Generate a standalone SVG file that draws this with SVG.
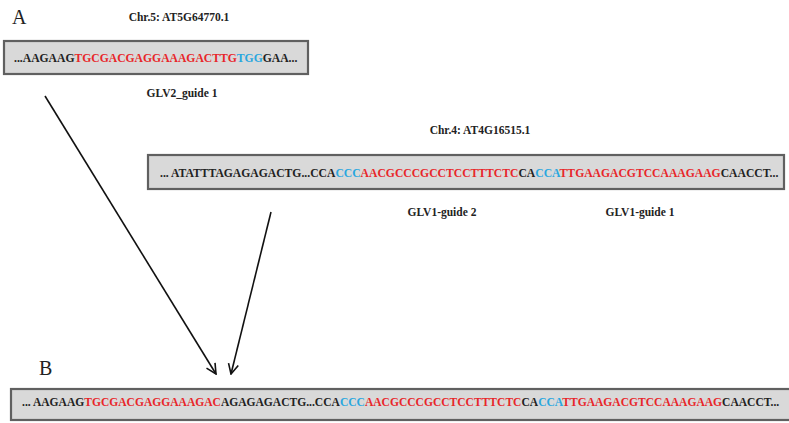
<svg xmlns="http://www.w3.org/2000/svg" width="789" height="423" viewBox="0 0 789 423">
<defs>
<style>
.lbl{font-family:"Liberation Serif","Times New Roman",serif;font-weight:bold;font-size:11.5px;fill:#222;text-anchor:middle}
.seq{font-family:"Liberation Serif","Times New Roman",serif;font-weight:bold;font-size:11.55px;fill:#222}
.s1{font-size:11.65px}
.s2{font-size:11.65px}
.big{font-family:"Liberation Serif","Times New Roman",serif;font-size:20px;fill:#222}
.r{fill:#e8262a}
.b{fill:#2aa7df}
.box{fill:#d9d9d9;stroke:#606060;stroke-width:2.2}
.arr{stroke:#111;stroke-width:1.6;fill:none}
</style>
<marker id="ah" viewBox="0 0 12 12" refX="11" refY="6" markerWidth="12" markerHeight="12" markerUnits="userSpaceOnUse" orient="auto">
<polyline points="1,1 11,6 1,11" fill="none" stroke="#111" stroke-width="1.6"/>
</marker>
</defs>
<rect width="789" height="423" fill="#fff"/>
<text class="big" x="12" y="24">A</text>
<text class="big" x="39" y="375">B</text>
<g id="chr5">
<text class="lbl" x="179" y="21">Chr.5: AT5G64770.1</text>
<rect class="box" x="4" y="41" width="304" height="33"/>
<text class="seq s1" x="14" y="62">...AAGAAG<tspan class="r">TGCGACGAGGAAAGACTTG</tspan><tspan class="b">TGG</tspan>GAA...</text>
<text class="lbl" x="182" y="97">GLV2_guide 1</text>
</g>
<g id="chr4">
<text class="lbl" x="480" y="134">Chr.4: AT4G16515.1</text>
<rect class="box" x="148" y="155" width="636" height="34"/>
<text class="seq s2" x="160" y="177">... ATATTTAGAGAGACTG...CCA<tspan class="b">CCC</tspan><tspan class="r">AACGCCCGCCTCCTTTCTC</tspan>CA<tspan class="b">CCA</tspan><tspan class="r">TTGAAGACGTCCAAAGAAG</tspan>CAACCT...</text>
<text class="lbl" x="442" y="216">GLV1-guide 2</text>
<text class="lbl" x="640" y="216">GLV1-guide 1</text>
</g>
<g id="result">
<rect class="box" x="11" y="389" width="790" height="31"/>
<text class="seq" x="22" y="406">... AAGAAG<tspan class="r">TGCGACGAGGAAAGAC</tspan>AGAGAGACTG...CCA<tspan class="b">CCC</tspan><tspan class="r">AACGCCCGCCTCCTTTCTC</tspan>CA<tspan class="b">CCA</tspan><tspan class="r">TTGAAGACGTCCAAAGAAG</tspan>CAACCT...</text>
</g>
<g id="connectors">
<line class="arr" x1="45" y1="96" x2="216" y2="374" marker-end="url(#ah)"/>
<line class="arr" x1="271" y1="212" x2="231" y2="374" marker-end="url(#ah)"/>
</g>
</svg>
